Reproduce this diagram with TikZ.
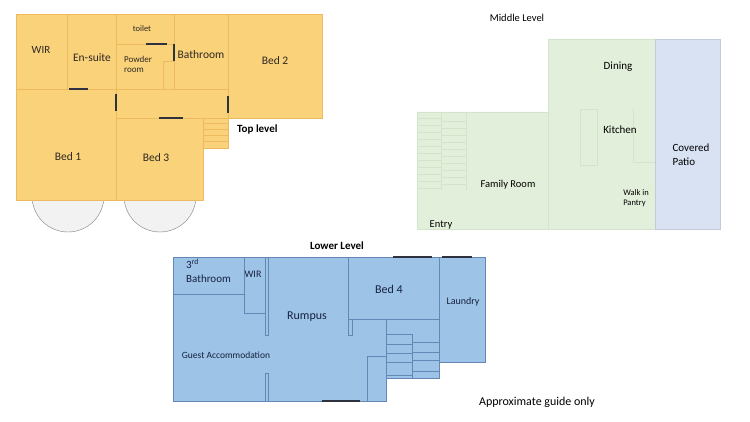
\documentclass[tikz,border=0pt]{standalone}
\usepackage{fontspec}
\setmainfont{Carlito}
\definecolor{topfill}{RGB}{250,210,122}
\definecolor{topedge}{RGB}{238,186,96}
\definecolor{midfill}{RGB}{226,239,218}
\definecolor{midedge}{RGB}{212,228,202}
\definecolor{patiofill}{RGB}{217,226,243}
\definecolor{lowfill}{RGB}{157,195,230}
\definecolor{lowedge}{RGB}{100,136,182}
\definecolor{doorline}{RGB}{45,50,62}
\definecolor{toptext}{RGB}{45,40,35}
\definecolor{lowtext}{RGB}{22,34,64}

\begin{document}
\begin{tikzpicture}[x=1pt,y=-1pt,
  txt/.style={font=\fontsize{#1}{#1}\selectfont, inner sep=0pt, align=left},
  toproom/.style={fill=topfill, draw=topedge, line width=0.6pt},
  lowroom/.style={fill=lowfill, draw=lowedge, line width=0.6pt},
  door/.style={doorline, line width=1.3pt}]
\useasboundingbox (0,0) rectangle (750,422);
% top level
\draw[fill=black!5, draw=black!50] (68,196) circle [radius=36];
\draw[fill=black!5, draw=black!50] (160,196) circle [radius=36];
\draw[toproom] (16,14) rectangle (67,89);
\draw[toproom] (67,14) rectangle (116,89);
\draw[toproom] (116,14) rectangle (174,44);
\draw[toproom] (116,44) rectangle (174,89);
\draw[toproom] (163,61) rectangle (174,89);
\draw[toproom] (174,14) rectangle (228,89);
\draw[toproom] (228,14) rectangle (322,118);
\draw[toproom] (116,89) rectangle (228,118);
\draw[toproom] (16,89) rectangle (116,200);
\draw[toproom] (116,118) rectangle (203,200);
\draw[toproom] (203,118) rectangle (228,148);
\draw[topedge] (203,123) -- (228,123) (203,129) -- (228,129) (203,135) -- (228,135) (203,141) -- (228,141);
\draw[door] (69,89) -- (88,89);
\draw[door] (146,44) -- (167,44);
\draw[door] (174,44) -- (174,61);
\draw[door] (116,94) -- (116,111);
\draw[door] (228,96) -- (228,113);
\draw[door] (159,118) -- (183,118);
\node[txt=11, toptext] (wirtop) at (41,50) {WIR};
\node[txt=11.5, toptext] (ensuite) at (92,58) {En-suite};
\node[txt=8.5, toptext] (toilet) at (142,29) {toilet};
\node[txt=9, toptext, anchor=north west] (powder) at (124,56) {Powder\\[1pt]room};
\node[txt=11.5, toptext] (bathtop) at (201,55) {Bathroom};
\node[txt=11.5, toptext] (bedtwo) at (275,61) {Bed 2};
\node[txt=11.5, toptext] (bedone) at (68,157) {Bed 1};
\node[txt=11.5, toptext] (bedthree) at (156,158) {Bed 3};
\node[txt=11, font=\fontsize{11}{11}\bfseries, anchor=west] (toplevel) at (237,130) {Top level};

% middle level
\draw[fill=midfill, draw=midedge] (417,112) -- (548,112) -- (548,39) -- (655,39) -- (655,229) -- (417,229) -- cycle;
\draw[midedge] (548,112) -- (548,229);
\draw[fill=patiofill, draw=patiofill!90!black] (655,39) rectangle (720,229);
\draw[midedge] (441,112) -- (441,190) (466,112) -- (466,190);
\draw[midedge] (417,118) -- (441,118) (417,125) -- (441,125) (417,132) -- (441,132) (417,139) -- (441,139)
  (417,146) -- (441,146) (417,153) -- (441,153) (417,160) -- (441,160) (417,167) -- (441,167)
  (417,174) -- (441,174) (417,181) -- (441,181) (417,188) -- (441,188);
\draw[midedge] (441,121) -- (466,121) (441,128) -- (466,128) (441,135) -- (466,135) (441,142) -- (466,142)
  (441,149) -- (466,149) (441,156) -- (466,156) (441,163) -- (466,163) (441,170) -- (466,170)
  (441,177) -- (466,177) (441,184) -- (466,184);
\draw[midedge] (580,109) rectangle (597,165);
\draw[midedge] (633,109) -- (633,162) -- (655,162);
\node[txt=10.5] (midlevel) at (517,18) {Middle Level};
\node[txt=11] (dining) at (618,67) {Dining};
\node[txt=11] (kitchen) at (620,130) {Kitchen};
\node[txt=11] (patio) at (691,155) {Covered\\[3pt]Patio};
\node[txt=10.5] (family) at (508,185) {Family Room};
\node[txt=8.5] (pantry) at (636,198) {Walk in\\[2pt]Pantry};
\node[txt=10.5] (entry) at (441,225) {Entry};

% lower level
\draw[lowroom] (173,257) rectangle (386,401);
\draw[lowroom] (173,257) rectangle (244,294);
\draw[lowroom] (244,257) rectangle (265,313);
\draw[lowroom] (265,257) rectangle (268,335);
\draw[lowroom] (265,373) rectangle (268,401);
\draw[lowroom] (348,257) rectangle (439,319);
\draw[lowroom] (348,319) rectangle (352,335);
\draw[lowroom] (439,257) rectangle (485,362);
\draw[lowroom] (386,319) rectangle (439,378);
\draw[lowroom] (367,356) rectangle (386,401);
\draw[lowedge] (412,334) -- (412,378);
\draw[lowedge] (386,334) -- (412,334) (386,344) -- (412,344) (386,353) -- (412,353) (386,362) -- (412,362) (386,375) -- (412,375);
\draw[lowedge] (412,342) -- (439,342) (412,352) -- (439,352) (412,360) -- (439,360) (412,371) -- (439,371);
\draw[door] (393,257) -- (432,257);
\draw[door] (442,257) -- (472,257);
\draw[door] (322,401) -- (360,401);
\node[txt=11, font=\fontsize{11}{11}\bfseries] (lowlevel) at (337,246) {Lower Level};
\node[txt=11, lowtext, anchor=north west] (bathlow) at (186,259) {3\textsuperscript{rd}\\[3pt]Bathroom};
\node[txt=10, lowtext] (wirlow) at (253,274) {WIR};
\node[txt=12, lowtext] (rumpus) at (307,317) {Rumpus};
\node[txt=9.5, lowtext] (guest) at (226,355) {Guest Accommodation};
\node[txt=12, lowtext] (bedfour) at (389,289) {Bed 4};
\node[txt=10, lowtext] (laundry) at (463,302) {Laundry};
\node[txt=12] (guide) at (537,402) {Approximate guide only};
\end{tikzpicture}
\end{document}
